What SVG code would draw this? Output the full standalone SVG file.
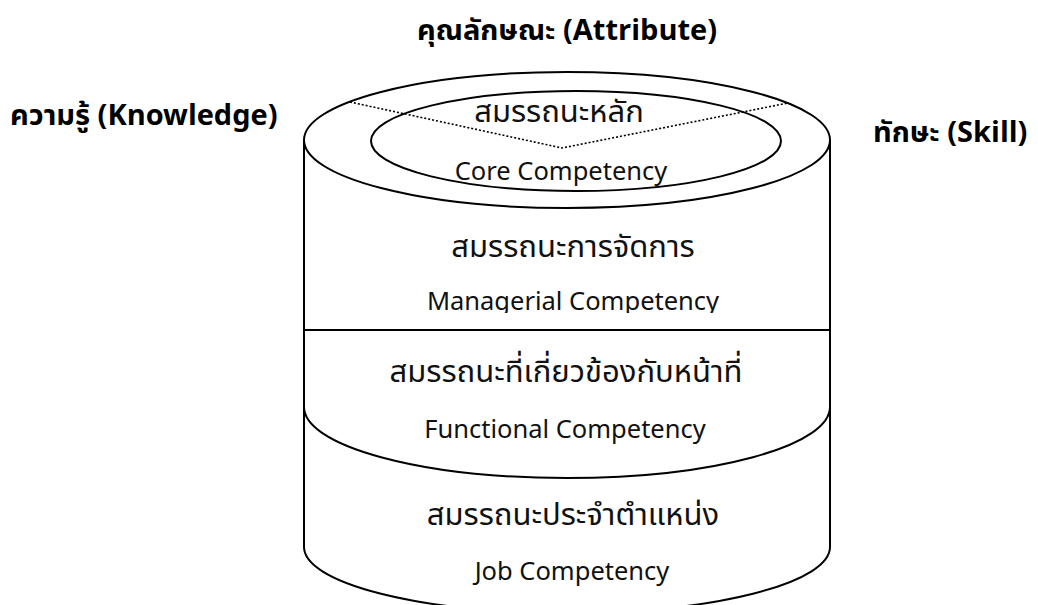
<svg xmlns="http://www.w3.org/2000/svg" width="1038" height="605" viewBox="0 0 1038 605">
<style>
.ln{fill:none;stroke:#000;stroke-width:2}
.dot{fill:none;stroke:#000;stroke-width:1.6;stroke-dasharray:2 2}
.t{font-family:"Noto Sans Thai","Tahoma","Noto Sans","DejaVu Sans",sans-serif;font-size:31px;fill:#111;text-anchor:middle}
.e{font-family:"Noto Sans","Tahoma","DejaVu Sans",sans-serif;font-size:25.5px;fill:#111;text-anchor:middle}
.b{font-family:"Noto Sans Thai","Noto Sans","DejaVu Sans",sans-serif;font-size:29px;font-weight:bold;fill:#000}
</style>
<defs>
<clipPath id="clipMgr"><rect x="300" y="200" width="540" height="113"/></clipPath>
</defs>
<rect width="1038" height="605" fill="#fff"/>
<g id="cylinder">
<ellipse class="ln" cx="567" cy="140" rx="263" ry="68"/>
<line class="ln" x1="304" y1="140" x2="304" y2="547"/>
<line class="ln" x1="830" y1="140" x2="830" y2="547"/>
</g>
<g id="core">
<ellipse class="ln" cx="576" cy="141" rx="205" ry="50"/>
<text class="t" x="559" y="122">สมรรถนะหลัก</text>
<text class="e" x="561" y="180">Core Competency</text>
</g>
<g id="managerial">
<text class="t" x="573" y="257">สมรรถนะการจัดการ</text>
<text class="e" x="573" y="310" clip-path="url(#clipMgr)">Managerial Competency</text>
</g>
<g id="functional">
<line class="ln" x1="304" y1="330" x2="830" y2="330"/>
<text class="t" x="566" y="382">สมรรถนะที่เกี่ยวข้องกับหน้าที่</text>
<text class="e" x="565" y="438">Functional Competency</text>
</g>
<g id="job">
<path class="ln" d="M304,407 A263,71 0 0 0 830,407"/>
<text class="t" x="573" y="525">สมรรถนะประจำตำแหน่ง</text>
<text class="e" x="572" y="580">Job Competency</text>
<path class="ln" d="M304,547 A263,66 0 0 0 830,547"/>
</g>
<g id="connectors">
<polyline class="dot" points="350,102 562,148 788,103"/>
</g>
<g id="labels">
<text class="b" id="attribute" x="567" y="40" text-anchor="middle">คุณลักษณะ (Attribute)</text>
<text class="b" id="knowledge" x="10" y="125">ความรู้ (Knowledge)</text>
<text class="b" id="skill" x="873" y="142">ทักษะ (Skill)</text>
</g>
</svg>
